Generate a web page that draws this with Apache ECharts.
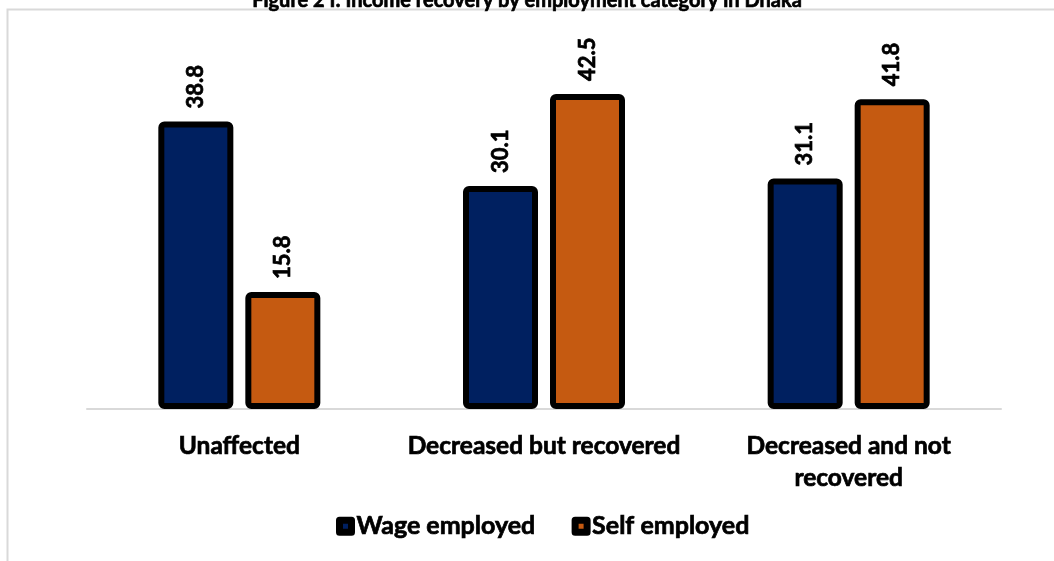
<!DOCTYPE html>
<html><head><meta charset="utf-8">
<script src="https://cdn.jsdelivr.net/npm/echarts@6/dist/echarts.min.js"></script>
<style>html,body{margin:0;padding:0;background:#fff}#c{width:1054px;height:561px}</style>
</head><body><div id="c"></div>
<script>
const titleText = 'Figure 2 I: Income recovery by employment category in Dhaka';
const categories = ['Unaffected', 'Decreased but recovered', 'Decreased and not\nrecovered'];
const seriesNames = ['Wage employed', 'Self employed'];
const wageEmployed = [38.8, 30.1, 31.1];
const selfEmployed = [15.8, 42.5, 41.8];
const colors = ['#002060', '#C55A11'];
const FONT = 'Lato';
const heavy = {textBorderColor: '#000', textBorderWidth: 0.7};

const chart = echarts.init(document.getElementById('c'), null, {renderer: 'canvas'});
const mkSeries = (name, data, color) => ({
  name, type: 'bar', data, barWidth: 75, barGap: '16%',
  itemStyle: {color, borderColor: '#000', borderWidth: 6, borderRadius: 3},
  label: Object.assign({show: true, position: 'top', rotate: 90, align: 'left', verticalAlign: 'middle',
    distance: 13, color: '#000', fontFamily: FONT, fontWeight: 'bold', fontSize: 22,
    formatter: p => p.value.toFixed(1)}, heavy)
});
chart.setOption({
  animation: false,
  backgroundColor: '#fff',
  title: {text: titleText, left: 'center', top: -14,
    textStyle: Object.assign({fontFamily: FONT, fontWeight: 'bold', fontSize: 20, color: '#000'}, heavy)},
  graphic: [{type: 'rect', shape: {x: 7.5, y: 9.5, width: 1200, height: 700},
    style: {fill: 'none', stroke: '#d9d9d9', lineWidth: 2}, z: -1}],
  grid: {left: 87, right: 53, top: 38.5, bottom: 152},
  legend: {data: seriesNames, bottom: 17, left: 331,
    itemWidth: 12, itemHeight: 12, itemGap: 36,
    icon: 'rect',
    itemStyle: {borderColor: '#000', borderWidth: 7, borderJoin: 'round'},
    textStyle: Object.assign({fontFamily: FONT, fontWeight: 'bold', fontSize: 25, color: '#000'}, heavy)},
  xAxis: {type: 'category', data: categories,
    axisLine: {lineStyle: {color: '#d9d9d9', width: 2}}, axisTick: {show: false},
    axisLabel: Object.assign({color: '#000', fontFamily: FONT, fontWeight: 'bold', fontSize: 24.5, lineHeight: 32, margin: 21, interval: 0}, heavy)},
  yAxis: {type: 'value', min: 0, max: 50, show: false, splitLine: {show: false}},
  series: [mkSeries(seriesNames[0], wageEmployed, colors[0]), mkSeries(seriesNames[1], selfEmployed, colors[1])]
});
</script></body></html>
